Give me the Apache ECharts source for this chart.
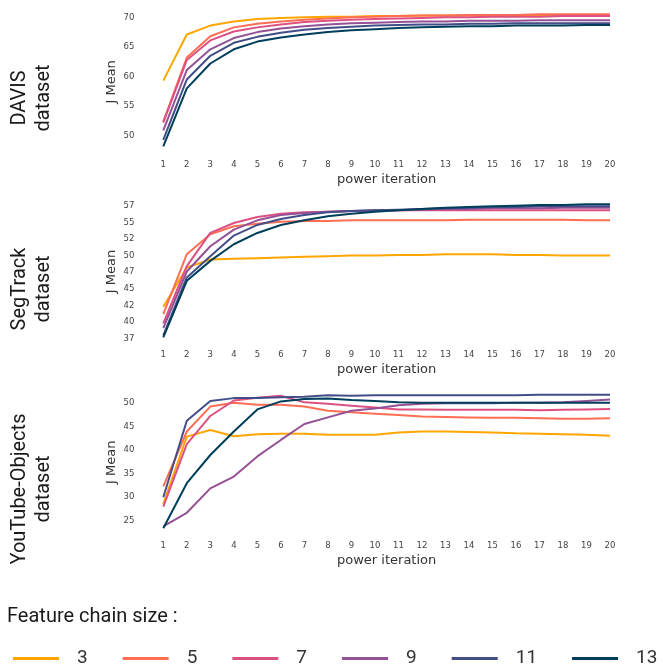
<!DOCTYPE html>
<html>
<head>
<meta charset="utf-8">
<script src="https://cdn.jsdelivr.net/npm/echarts@6/dist/echarts.min.js"></script>
<style>
  html, body { margin: 0; padding: 0; background: #fff; }
  #chart { width: 663px; height: 665px; }
</style>
</head>
<body>
<div id="chart"></div>
<script>
// Power iterations on the x axis
const iterations = [1,2,3,4,5,6,7,8,9,10,11,12,13,14,15,16,17,18,19,20];

// Feature chain sizes (one line per size)
const chainSizes = ['3', '5', '7', '9', '11', '13'];
const chainColors = ['#ffa600', '#ff6e54', '#dd5182', '#955196', '#444e86', '#003f5c'];

// DAVIS: J Mean per chain size
const davis3  = [59.3, 67.1, 68.6, 69.3, 69.7, 69.9, 70.0, 70.1, 70.1, 70.2, 70.2, 70.3, 70.3, 70.3, 70.3, 70.4, 70.4, 70.4, 70.4, 70.4];
const davis5  = [52.4, 63.2, 66.8, 68.3, 68.9, 69.3, 69.6, 69.8, 70.0, 70.1, 70.2, 70.3, 70.3, 70.4, 70.4, 70.4, 70.5, 70.5, 70.5, 70.5];
const davis7  = [52.2, 62.8, 66.1, 67.6, 68.3, 68.8, 69.2, 69.4, 69.6, 69.7, 69.8, 69.9, 70.0, 70.0, 70.1, 70.1, 70.1, 70.2, 70.2, 70.2];
const davis9  = [50.9, 61.1, 64.6, 66.5, 67.5, 68.1, 68.5, 68.8, 69.0, 69.1, 69.2, 69.3, 69.3, 69.4, 69.4, 69.4, 69.5, 69.5, 69.5, 69.5];
const davis11 = [49.3, 59.5, 63.5, 65.7, 66.7, 67.4, 67.9, 68.2, 68.4, 68.6, 68.7, 68.8, 68.8, 68.9, 68.9, 69.0, 69.0, 69.0, 69.0, 69.0];
const davis13 = [48.2, 58.0, 62.2, 64.6, 65.9, 66.6, 67.1, 67.5, 67.8, 68.0, 68.2, 68.3, 68.4, 68.5, 68.5, 68.6, 68.6, 68.6, 68.7, 68.7];

// SegTrack: J Mean per chain size
const seg3  = [42.3, 48.2, 49.4, 49.5, 49.6, 49.7, 49.8, 49.9, 50.0, 50.0, 50.1, 50.1, 50.2, 50.2, 50.2, 50.1, 50.1, 50.0, 50.0, 50.0];
const seg5  = [41.2, 50.2, 53.2, 54.4, 54.8, 55.1, 55.2, 55.2, 55.3, 55.3, 55.3, 55.3, 55.3, 55.4, 55.4, 55.4, 55.4, 55.4, 55.3, 55.3];
const seg7  = [39.8, 48.4, 53.4, 54.9, 55.8, 56.3, 56.5, 56.6, 56.7, 56.7, 56.8, 56.8, 56.8, 56.8, 56.8, 56.8, 56.8, 56.8, 56.8, 56.8];
const seg9  = [39.1, 47.6, 51.4, 53.9, 55.3, 56.1, 56.4, 56.6, 56.7, 56.8, 56.8, 56.9, 57.0, 57.0, 57.1, 57.1, 57.1, 57.2, 57.2, 57.2];
const seg11 = [38.0, 46.7, 49.9, 53.0, 54.6, 55.5, 56.1, 56.5, 56.7, 56.8, 56.9, 57.0, 57.1, 57.2, 57.3, 57.3, 57.4, 57.4, 57.4, 57.4];
const seg13 = [37.7, 46.2, 49.2, 51.7, 53.4, 54.6, 55.3, 55.9, 56.3, 56.6, 56.8, 57.0, 57.2, 57.3, 57.4, 57.5, 57.6, 57.6, 57.7, 57.7];

// YouTube-Objects: J Mean per chain size
const yt3  = [28.6, 42.9, 44.3, 43.0, 43.4, 43.5, 43.5, 43.3, 43.3, 43.3, 43.8, 44.0, 44.0, 43.9, 43.8, 43.6, 43.5, 43.4, 43.3, 43.1];
const yt5  = [32.3, 44.0, 49.3, 50.1, 49.7, 49.7, 49.3, 48.4, 48.1, 47.8, 47.5, 47.2, 47.1, 47.0, 46.9, 46.9, 46.8, 46.7, 46.7, 46.8];
const yt7  = [28.0, 41.3, 47.3, 50.6, 51.2, 51.6, 50.2, 49.9, 49.5, 49.1, 48.7, 48.7, 48.6, 48.6, 48.6, 48.6, 48.5, 48.6, 48.7, 48.8];
const yt9  = [23.8, 26.7, 31.9, 34.4, 38.7, 42.2, 45.6, 47.0, 48.4, 48.9, 49.6, 49.9, 50.0, 50.0, 50.0, 50.1, 50.1, 50.2, 50.5, 50.8];
const yt11 = [30.0, 46.3, 50.5, 51.1, 51.1, 51.3, 51.4, 51.7, 51.6, 51.7, 51.7, 51.7, 51.7, 51.7, 51.7, 51.7, 51.8, 51.8, 51.8, 51.8];
const yt13 = [23.4, 33.0, 39.0, 44.0, 48.7, 50.4, 50.9, 51.0, 50.7, 50.5, 50.2, 50.1, 50.1, 50.1, 50.1, 50.1, 50.1, 50.1, 50.1, 50.1];

// Y tick values and their labels
const davisTicks = [50, 55, 60, 65, 70];
const segTicks = [37.5, 40, 42.5, 45, 47.5, 50, 52.5, 55, 57.5];
const segTickLabels = ['37', '40', '42', '45', '47', '50', '52', '55', '57'];
const ytTicks = [25, 30, 35, 40, 45, 50];

const panelTitles = ['DAVIS\ndataset', 'SegTrack\ndataset', 'YouTube-Objects\ndataset'];
const legendTitle = 'Feature chain size :';

const panels = [
  { data: [davis3, davis5, davis7, davis9, davis11, davis13], top: 10.2, height: 143.3, min: 47, max: 71.2,
    ticks: davisTicks, fmt: v => String(v), labelY: 98 },
  { data: [seg3, seg5, seg7, seg9, seg11, seg13], top: 199.7, height: 143.6, min: 36.8, max: 58.4,
    ticks: segTicks, fmt: v => segTickLabels[segTicks.indexOf(v)] ?? String(Math.floor(v)), labelY: 289 },
  { data: [yt3, yt5, yt7, yt9, yt11, yt13], top: 390.6, height: 143.35, min: 22.2, max: 52.7,
    ticks: ytTicks, fmt: v => String(v), labelY: 489 }
];

const axisFont = 'DejaVu Sans';
const grids = [], xAxes = [], yAxes = [], series = [], graphics = [];

panels.forEach((p, i) => {
  grids.push({ left: 163.3, width: 446.7, top: p.top, height: p.height });
  xAxes.push({
    type: 'category', gridIndex: i, data: iterations, boundaryGap: false,
    axisLine: { show: false }, axisTick: { show: false }, splitLine: { show: false },
    axisLabel: { color: '#444', fontSize: 8.5, fontFamily: axisFont, margin: 7, interval: 0 },
    name: 'power iteration', nameLocation: 'middle', nameGap: 20, nameMoveOverlap: false,
    nameTextStyle: { color: '#333', fontSize: 13, fontFamily: axisFont }
  });
  yAxes.push({
    type: 'value', gridIndex: i, min: p.min, max: p.max,
    axisLine: { show: false }, axisTick: { show: false }, splitLine: { show: false },
    axisLabel: { color: '#444', fontSize: 8.5, fontFamily: axisFont, margin: 29,
      customValues: p.ticks, formatter: p.fmt },
    name: 'J Mean', nameLocation: 'middle', nameGap: 45, nameRotate: 90, nameMoveOverlap: false,
    nameTextStyle: { color: '#333', fontSize: 13, fontFamily: axisFont }
  });
  p.data.forEach((vals, k) => {
    series.push({
      type: 'line', name: chainSizes[k], xAxisIndex: i, yAxisIndex: i,
      data: vals, symbol: 'none', color: chainColors[k],
      lineStyle: { width: 2, color: chainColors[k] }
    });
  });
  graphics.push({
    type: 'text', x: 32, y: p.labelY, rotation: Math.PI / 2,
    style: { text: panelTitles[i], font: '20px Roboto', fill: '#1a1a1a',
      textAlign: 'center', textVerticalAlign: 'middle', lineHeight: 24 }
  });
});

graphics.push({
  type: 'text', x: 7, y: 617,
  style: { text: legendTitle, font: '20px Roboto', fill: '#1a1a1a', textAlign: 'left', textVerticalAlign: 'middle' }
});

const chart = echarts.init(document.getElementById('chart'), null, { renderer: 'canvas' });
chart.setOption({
  animation: false,
  backgroundColor: '#fff',
  grid: grids,
  xAxis: xAxes,
  yAxis: yAxes,
  series: series,
  graphic: graphics,
  legend: {
    data: chainSizes, left: 8, top: 644, width: 700, orient: 'horizontal',
    icon: 'rect', itemWidth: 46, itemHeight: 3, itemGap: 35,
    textStyle: { fontSize: 19, fontFamily: 'Roboto', color: '#333', padding: [0, 0, 0, 13] }
  }
});
</script>
</body>
</html>
